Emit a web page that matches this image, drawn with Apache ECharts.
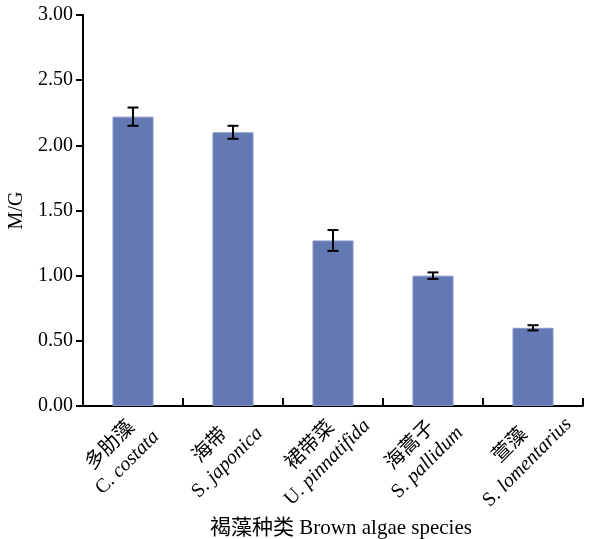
<!DOCTYPE html>
<html>
<head>
<meta charset="utf-8">
<script src="https://cdn.jsdelivr.net/npm/echarts@6/dist/echarts.min.js"></script>
<style>
  html, body { margin: 0; padding: 0; background: #fff; }
  #chart { width: 598px; height: 539px; }
</style>
</head>
<body>
<div id="chart"></div>
<script>
// Brown algae species: Chinese name, genus abbreviation, species epithet
const namesCn = ['多肋藻', '海带', '裙带菜', '海蒿子', '萱藻'];
const genus = ['C.', 'S.', 'U.', 'S.', 'S.'];
const epithet = ['costata', 'japonica', 'pinnatifida', 'pallidum', 'lomentarius'];

// M/G ratio (mean) and its standard deviation
const ratioMG = [2.22, 2.10, 1.27, 1.00, 0.60];
const ratioErr = [0.07, 0.05, 0.08, 0.025, 0.02];

const yTicks = ['0.00', '0.50', '1.00', '1.50', '2.00', '2.50', '3.00'];

const serif = '"Liberation Serif", "Times New Roman", "Noto Sans CJK SC", serif';

const chart = echarts.init(document.getElementById('chart'), null, { renderer: 'canvas' });

const errData = ratioMG.map((v, i) => [i, v, ratioErr[i]]);

chart.setOption({
  backgroundColor: '#ffffff',
  animation: false,
  grid: { left: 83, right: 15, top: 15, bottom: 133, containLabel: false, outerBoundsMode: 'none' },
  xAxis: {
    type: 'category',
    data: namesCn,
    name: '褐藻种类 Brown algae species',
    nameLocation: 'middle',
    nameGap: 102,
    nameTextStyle: { fontFamily: serif, fontSize: 21, color: '#000', verticalAlign: 'top', padding: [0, 0, 0, 16] },
    axisLine: { lineStyle: { color: '#000', width: 2 } },
    axisTick: { show: true, inside: true, length: 8, lineStyle: { color: '#000', width: 2 } },
    axisLabel: {
      rotate: 45,
      margin: 34,
      align: 'center',
      verticalAlign: 'middle',
      padding: [0, 40, 0, 0],
      interval: 0,
      formatter: (v, i) => `{cn|${namesCn[i]}}\n{gn|${genus[i]} }{sp|${epithet[i]}}`,
      rich: {
        cn: { fontFamily: serif, fontSize: 20, color: '#000', align: 'center', lineHeight: 24 },
        gn: { fontFamily: serif, fontSize: 20, color: '#000', align: 'center', lineHeight: 24 },
        sp: { fontFamily: serif, fontSize: 20, fontStyle: 'italic', color: '#000', align: 'center', lineHeight: 24 }
      }
    }
  },
  yAxis: {
    type: 'value',
    min: 0,
    max: 3,
    interval: 0.5,
    name: 'M/G',
    nameLocation: 'middle',
    nameRotate: 90,
    nameGap: 55,
    nameTextStyle: { fontFamily: serif, fontSize: 20, color: '#000' },
    splitLine: { show: false },
    axisLine: { show: true, lineStyle: { color: '#000', width: 2 } },
    axisTick: { show: true, inside: false, length: 7, lineStyle: { color: '#000', width: 2 } },
    axisLabel: {
      margin: 10,
      fontFamily: serif,
      fontSize: 20,
      color: '#000',
      formatter: (v) => yTicks[Math.round(v / 0.5)]
    }
  },
  series: [
    {
      type: 'bar',
      data: ratioMG,
      barWidth: '41%',
      itemStyle: { color: '#6479b4', borderColor: '#8294c6', borderWidth: 1 }
    },
    {
      type: 'custom',
      data: errData,
      z: 5,
      renderItem: (params, api) => {
        const i = api.value(0);
        const v = api.value(1);
        const e = api.value(2);
        const top = api.coord([i, v + e]);
        const bot = api.coord([i, v - e]);
        const cap = 5.5;
        const st = { stroke: '#000', lineWidth: 2 };
        return {
          type: 'group',
          children: [
            { type: 'line', shape: { x1: top[0], y1: top[1], x2: bot[0], y2: bot[1] }, style: st },
            { type: 'line', shape: { x1: top[0] - cap, y1: top[1], x2: top[0] + cap, y2: top[1] }, style: st },
            { type: 'line', shape: { x1: bot[0] - cap, y1: bot[1], x2: bot[0] + cap, y2: bot[1] }, style: st }
          ]
        };
      }
    }
  ]
});
</script>
</body>
</html>
